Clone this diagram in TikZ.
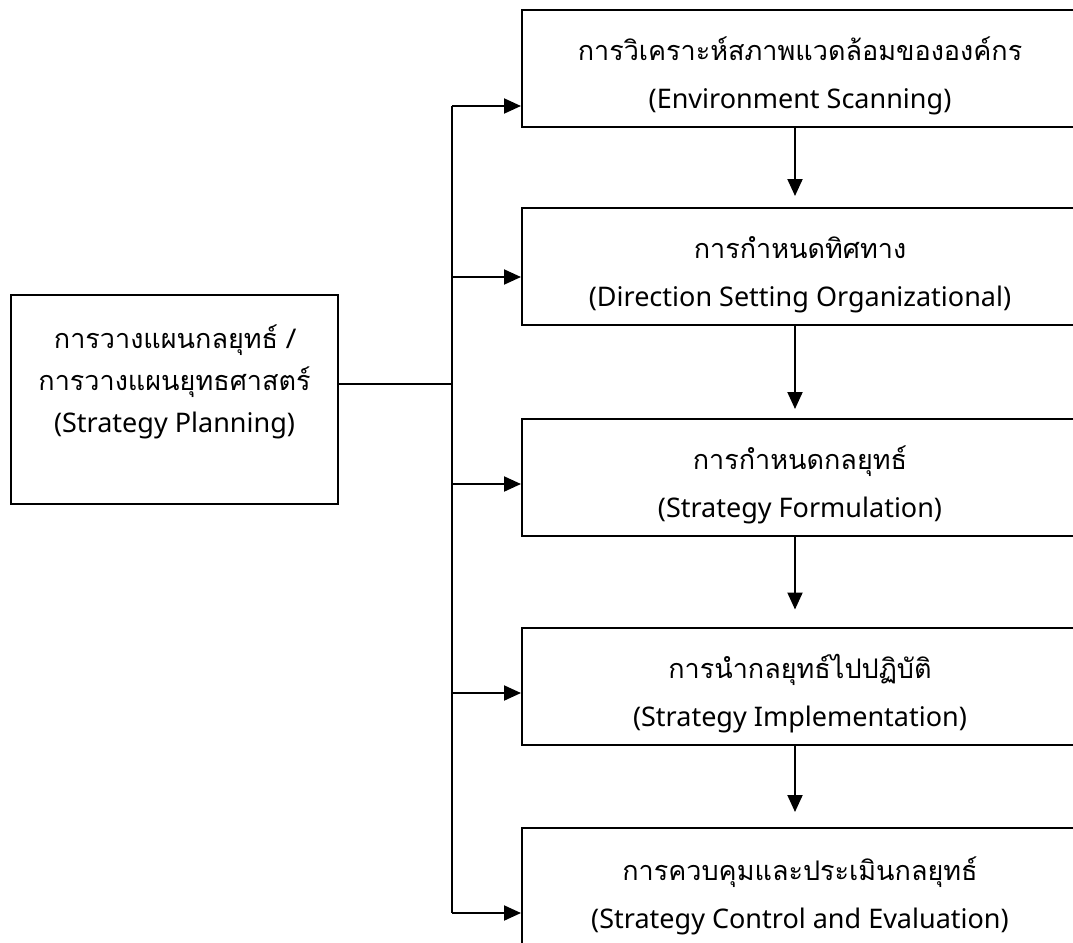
\documentclass[tikz,border=0pt]{standalone}
\usepackage{fontspec}
\setmainfont{Noto Sans}
\newfontfamily\thaifont[Script=Thai]{Loma}
\usetikzlibrary{arrows.meta}

\tikzset{
  box/.style={draw, line width=2pt, minimum width=556pt, minimum height=117pt,
    inner sep=0pt, align=center, font=\fontsize{27}{48}\selectfont},
  arr/.style={-{Triangle[length=17pt,width=15pt]}, line width=2pt},
}
\newcommand{\thtext}[1]{{\thaifont\fontsize{27}{48}\selectfont #1}}
\newcommand{\thtop}[1]{\rule{0pt}{39pt}\thtext{#1}}

\begin{document}
\begin{tikzpicture}
  [x=1pt, y=-1pt]
  \useasboundingbox (0,0) rectangle (1073,942);
  \node[box, minimum width=327pt, minimum height=209pt, line width=1.8pt,
    font=\fontsize{27}{42}\selectfont] (s0) at (174.5, 399.5)
    {\thtext{การวางแผนกลยุทธ์ /}\\\thtext{การวางแผนยุทธศาสตร์}\\(Strategy Planning)\\\mbox{}};
  \node[box] (s1) at (800, 68.5) {\thtop{การวิเคราะห์สภาพแวดล้อมขององค์กร}\\(Environment Scanning)};
  \node[box] (s2) at (800, 266.5) {\thtop{การกำหนดทิศทาง}\\(Direction Setting Organizational)};
  \node[box] (s3) at (800, 477.5) {\thtop{การกำหนดกลยุทธ์}\\(Strategy Formulation)};
  \node[box] (s4) at (800, 686) {\thtop{การนำกลยุทธ์ไปปฏิบัติ}\\(Strategy Implementation)};
  \node[box, minimum height=120pt] (s5) at (800, 888) {\thtop{การควบคุมและประเมินกลยุทธ์}\\(Strategy Control and Evaluation)};

  \coordinate (j) at (452, 384);
  \coordinate (t1) at (452, 106);
  \coordinate (t2) at (452, 277);
  \coordinate (t3) at (452, 484);
  \coordinate (t4) at (452, 693);
  \coordinate (t5) at (452, 913);

  \draw[line width=1.6pt] (s0.east |- j) -- (j);
  \draw[line width=2pt] (t1) -- (t5);
  \foreach \from/\to in {t1/s1,t2/s2,t3/s3,t4/s4,t5/s5}
  \draw[arr] (\from) -- (\from -| \to.west);
  \foreach \from/\to/\gap in {s1/s2/11,s2/s3/9,s3/s4/17,s4/s5/15}
  \draw[arr, shorten >=\gap pt] ([xshift=-5pt]\from.south) -- ([xshift=-5pt]\to.north);

\end{tikzpicture}
\end{document}
